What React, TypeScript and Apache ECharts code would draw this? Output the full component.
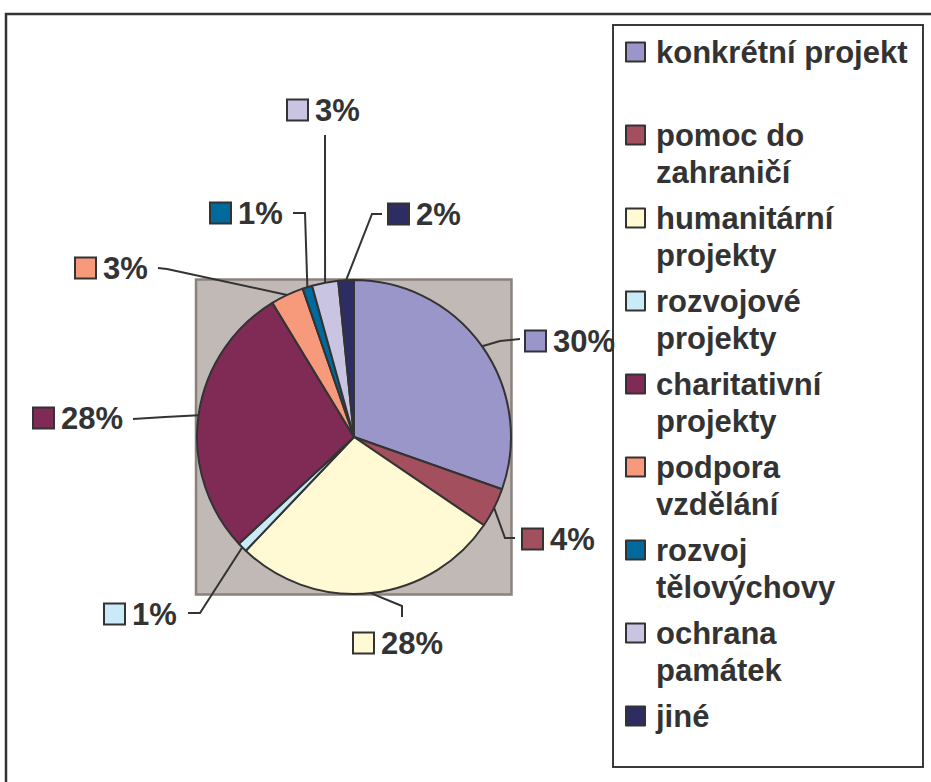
import React, { useEffect, useRef } from 'react';
import * as echarts from 'echarts';

// ---- data ----
const categories = [
  'konkrétní projekt',
  'pomoc do zahraničí',
  'humanitární projekty',
  'rozvojové projekty',
  'charitativní projekty',
  'podpora vzdělání',
  'rozvoj tělovýchovy',
  'ochrana památek',
  'jiné',
];
const shares = [30.4, 4.1, 27.6, 1.0, 28.2, 3.4, 1.0, 2.7, 1.6];
const legendLines = [
  ['konkrétní projekt'],
  ['pomoc do', 'zahraničí'],
  ['humanitární', 'projekty'],
  ['rozvojové', 'projekty'],
  ['charitativní', 'projekty'],
  ['podpora', 'vzdělání'],
  ['rozvoj', 'tělovýchovy'],
  ['ochrana', 'památek'],
  ['jiné'],
];

// ---- styles / layout ----
const palette = ['#9b96ca', '#a44f5e', '#fff9d4', '#c9eaf6', '#802b55', '#f69a7b', '#006a9c', '#c8c4e2', '#2e2d63'];
const FONT = '"Liberation Sans", Arial, Helvetica, sans-serif';
const TEXT = '#333333';
const CX = 354;
const CY = 437;
const R = 157;
// label anchor (left of square, vertical middle) and leader line bends
const labelPlace: number[][] = [
  [526, 341], [523, 539], [354, 643], [105, 614], [34, 418], [76, 268], [211, 213], [288, 110], [389, 214],
];
const leaderBends: number[][][] = [
  [[500, 341], [520, 339]],
  [[505, 538], [515, 538]],
  [[402, 606], [402, 617]],
  [[200, 613], [188, 613]],
  [[165, 417], [133, 419]],
  [[167, 269], [158, 268]],
  [[305, 213], [293, 213]],
  [[325, 200], [325, 135]],
  [[372, 214], [382, 214]],
];

export default function App() {
  const ref = useRef<HTMLDivElement>(null);
  useEffect(() => {
    if (!ref.current) return;
    const chart = echarts.init(ref.current, undefined, { renderer: 'svg' });

    const total = shares.reduce((a, b) => a + b, 0);
    let cum = 0;
    const mids = shares.map((v) => {
      const m = cum + v / 2;
      cum += v;
      return (m / total) * Math.PI * 2;
    });

    const rich: Record<string, any> = {
      v: { fontFamily: FONT, fontSize: 31, fontWeight: 'bold', color: TEXT, padding: [0, 0, 0, 8] },
    };
    palette.forEach((c, i) => {
      rich['s' + i] = { width: 19, height: 19, backgroundColor: c, borderColor: TEXT, borderWidth: 2 };
    });

    const legends = categories.map((name, i) => {
      const n = legendLines[i].length;
      return {
        data: [name],
        orient: 'vertical',
        left: 625,
        top: 36.5 + 83 * i,
        padding: 0,
        itemWidth: 19,
        itemHeight: 19,
        icon: 'rect',
        selectedMode: false,
        itemStyle: { borderColor: TEXT, borderWidth: 2 },
        formatter: () => legendLines[i].map((l) => `{t|${l}}`).join('\n'),
        textStyle: {
          padding: [37 * (n - 1), 0, 0, 6],
          rich: {
            t: { fontFamily: FONT, fontSize: 31, fontWeight: 'bold', color: TEXT, lineHeight: 37 },
          },
        },
      };
    });

    chart.setOption({
      animation: false,
      color: palette,
      textStyle: { fontFamily: FONT },
      graphic: [
        {
          type: 'rect',
          shape: { x: 6, y: 14, width: 1000, height: 1000 },
          style: { fill: '#ffffff', stroke: '#333333', lineWidth: 2.5 },
          silent: true,
          z: -10,
        },
        {
          type: 'rect',
          shape: { x: 196, y: 279.5, width: 315.5, height: 315 },
          style: { fill: '#c1b9b6', stroke: '#8b817d', lineWidth: 2.5 },
          silent: true,
        },
        {
          type: 'rect',
          shape: { x: 613, y: 25, width: 310, height: 742 },
          style: { fill: '#ffffff', stroke: '#3a3a3a', lineWidth: 2 },
          silent: true,
        },
      ],
      legend: legends,
      series: [
        {
          type: 'pie',
          center: [CX, CY],
          radius: R,
          startAngle: 90,
          clockwise: true,
          avoidLabelOverlap: false,
          percentPrecision: 0,
          itemStyle: { borderColor: TEXT, borderWidth: 2 },
          emphasis: { disabled: true },
          label: {
            show: true,
            position: 'outside',
            fontFamily: FONT,
            fontSize: 31,
            fontWeight: 'bold',
            color: TEXT,
            formatter: (p: any) => `{s${p.dataIndex}|}{v|${p.percent}%}`,
            rich,
          },
          labelLine: { show: true, lineStyle: { color: TEXT, width: 2 } },
          labelLayout: (params: any) => {
            const i = params.dataIndex;
            const p0 =
              params.labelLinePoints && params.labelLinePoints[0]
                ? params.labelLinePoints[0]
                : [CX + R * Math.sin(mids[i]), CY - R * Math.cos(mids[i])];
            return {
              x: labelPlace[i][0],
              y: labelPlace[i][1],
              align: 'left',
              verticalAlign: 'middle',
              labelLinePoints: [p0, leaderBends[i][0], leaderBends[i][1]],
            };
          },
          data: categories.map((name, i) => ({ name, value: shares[i] })),
        },
      ],
    });
    return () => chart.dispose();
  }, []);
  return (
    <div
      ref={ref}
      style={{ position: 'fixed', left: 0, top: 0, width: 931, height: 782, background: '#ffffff' }}
    />
  );
}
